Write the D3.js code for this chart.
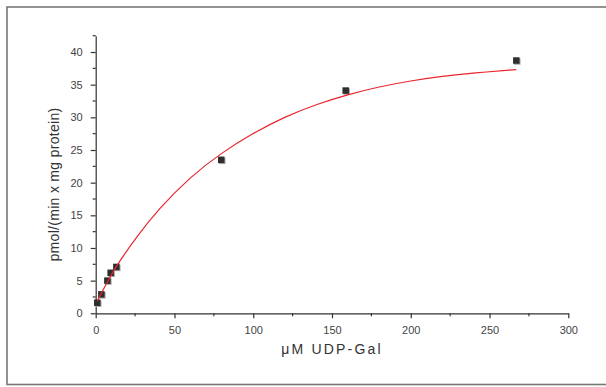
<!DOCTYPE html>
<html>
<head>
<meta charset="utf-8">
<script src="https://cdn.jsdelivr.net/npm/d3@7"></script>
<style>
  body { margin: 0; background: #fff; }
  svg { display: block; }
</style>
</head>
<body>
<script>
// measured points (uM UDP-Gal vs activity)
var conc = [1.0, 3.6, 7.4, 9.5, 13.1, 79.7, 158.7, 267.0];
var activity = [1.62, 2.9, 5.0, 6.2, 7.1, 23.5, 34.1, 38.7];

// fitted curve
var fitX = [1, 10, 15, 25, 40, 60, 80, 100, 120, 140, 160, 180, 200, 220, 240, 267];
var fitY = [1.9, 6.0, 7.9, 11.4, 16.0, 20.9, 24.6, 27.6, 30.1, 32.0, 33.5, 34.7, 35.6, 36.3, 36.8, 37.3];

var xTicks = [0, 50, 100, 150, 200, 250, 300];
var xMinor = [25, 75, 125, 175, 225, 275];
var yTicks = [0, 5, 10, 15, 20, 25, 30, 35, 40];
var yMinor = [2.5, 7.5, 12.5, 17.5, 22.5, 27.5, 32.5, 37.5, 42.5];

var xTitle = "\u03bcM UDP-Gal";
var yTitle = "pmol/(min x mg protein)";

(function(){
    var width = 606,
        height = 387;

    var svg = d3.select("body")
        .append("svg")
        .attr("width", width)
        .attr("height", height);

    // outer frame (right edge runs off the page)
    svg.append("rect")
        .attr("x", 7)
        .attr("y", 7)
        .attr("width", 700)
        .attr("height", 377.5)
        .attr("fill", "none")
        .attr("stroke", "#777")
        .attr("stroke-width", 1.6);

    var x = d3.scaleLinear().domain([0, 300]).range([95.7, 568.3]);
    var y = d3.scaleLinear().domain([0, 42.5]).range([313.3, 35.7]);

    var font = "'Liberation Sans', Arial, sans-serif";

    // x axis
    var gx = svg.append("g")
        .attr("transform", "translate(0," + y(0) + ")")
        .call(d3.axisBottom(x).tickValues(xTicks).tickSize(5).tickSizeOuter(0).tickPadding(8));
    gx.selectAll(".minor")
        .data(xMinor)
        .enter()
        .append("line")
        .attr("class", "minor")
        .attr("x1", function(d){ return x(d); })
        .attr("x2", function(d){ return x(d); })
        .attr("y1", 0)
        .attr("y2", 3);

    // y axis
    var gy = svg.append("g")
        .attr("transform", "translate(" + x(0) + ",0)")
        .call(d3.axisLeft(y).tickValues(yTicks).tickSize(5).tickSizeOuter(0).tickPadding(8));
    gy.selectAll(".minor")
        .data(yMinor)
        .enter()
        .append("line")
        .attr("class", "minor")
        .attr("x1", 0)
        .attr("x2", -3)
        .attr("y1", function(d){ return y(d); })
        .attr("y2", function(d){ return y(d); });

    svg.selectAll(".domain, .tick line, .minor")
        .attr("stroke", "#333")
        .attr("stroke-width", 1.2);
    svg.selectAll(".tick text")
        .attr("fill", "#444")
        .style("font-family", font)
        .style("font-size", "11px");

    // titles
    svg.append("text")
        .attr("x", (x(0) + x(300)) / 2)
        .attr("y", 353.5)
        .attr("text-anchor", "middle")
        .attr("fill", "#333")
        .style("font-family", font)
        .style("font-size", "14px")
        .style("letter-spacing", "2.2px")
        .text(xTitle);

    svg.append("text")
        .attr("transform", "translate(59," + ((y(0) + y(42.5)) / 2 + 10) + ") rotate(-90)")
        .attr("text-anchor", "middle")
        .attr("fill", "#333")
        .style("font-family", font)
        .style("font-size", "14px")
        .style("letter-spacing", "0.3px")
        .text(yTitle);

    // data squares with a faint shadow
    var s = 6.5;
    svg.selectAll(".shadow")
        .data(conc)
        .enter()
        .append("rect")
        .attr("class", "shadow")
        .attr("x", function(d){ return x(d) - s / 2 + 1; })
        .attr("y", function(d, i){ return y(activity[i]) - s / 2 + 1; })
        .attr("width", s)
        .attr("height", s)
        .attr("fill", "#aaa");

    svg.selectAll(".pt")
        .data(conc)
        .enter()
        .append("rect")
        .attr("class", "pt")
        .attr("x", function(d){ return x(d) - s / 2; })
        .attr("y", function(d, i){ return y(activity[i]) - s / 2; })
        .attr("width", s)
        .attr("height", s)
        .attr("fill", "#2e2e2e");

    // fit line on top
    var line = d3.line()
        .x(function(d){ return x(d[0]); })
        .y(function(d){ return y(d[1]); })
        .curve(d3.curveBasis);

    svg.append("path")
        .datum(d3.zip(fitX, fitY))
        .attr("d", line)
        .attr("fill", "none")
        .attr("stroke", "#e8262c")
        .attr("stroke-width", 1.2);
})();
</script>
</body>
</html>
